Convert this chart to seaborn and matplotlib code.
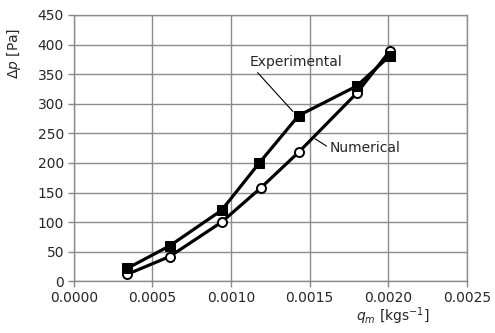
import pandas as pd
import matplotlib
matplotlib.use("Agg")
import matplotlib.pyplot as plt
import seaborn as sns

# Dados
qm_exp = [0.00034, 0.00061, 0.00094, 0.00118, 0.00143, 0.00180, 0.00201]
dp_exp = [22, 60, 120, 200, 280, 330, 381]
qm_num = [0.00034, 0.00061, 0.00094, 0.00119, 0.00143, 0.00180, 0.00201]
dp_num = [12, 42, 100, 158, 218, 318, 389]

x_ticks = [0.0, 0.0005, 0.0010, 0.0015, 0.0020, 0.0025]
y_ticks = [0, 50, 100, 150, 200, 250, 300, 350, 400, 450]

sns.set_style("white")
plt.rcParams['font.family'] = ['DejaVu Sans']

fig = plt.figure(figsize=(4.95, 3.33), dpi=100)
ax = fig.add_axes([0.149, 0.155, 0.794, 0.80])

df_exp = pd.DataFrame({'qm': qm_exp, 'dp': dp_exp})
df_num = pd.DataFrame({'qm': qm_num, 'dp': dp_num})

sns.lineplot(data=df_num, x='qm', y='dp', ax=ax, color='black', linewidth=2.3,
             marker='o', markersize=6.5, markerfacecolor='white',
             markeredgecolor='black', markeredgewidth=1.4, zorder=3)
sns.lineplot(data=df_exp, x='qm', y='dp', ax=ax, color='black', linewidth=2.3,
             marker='s', markersize=7, markerfacecolor='black',
             markeredgecolor='black', zorder=4)

ax.set_xlim(0, 0.0025)
ax.set_ylim(0, 450)
ax.set_xticks(x_ticks)
ax.set_xticklabels([f"{v:.4f}" for v in x_ticks])
ax.set_yticks(y_ticks)
ax.tick_params(labelsize=10, length=4, width=1, color='#888888', direction='out',
               bottom=True, left=True, pad=3)
ax.grid(True, color='#8c8c8c', linewidth=1)
for s in ax.spines.values():
    s.set_color('#8c8c8c')
    s.set_linewidth(1)

ax.set_xlabel(r"$q_m$ [kgs$^{-1}$]", fontsize=10)
ax.xaxis.set_label_coords(0.812, -0.09)
ax.set_ylabel(r"$\Delta p$ [Pa]", fontsize=10)
ax.yaxis.set_label_coords(-0.128, 0.855)

# Rótulos das curvas
ax.annotate("Experimental", xy=(0.001394, 287), xytext=(0.001121, 370),
            fontsize=10, va='center', ha='left',
            arrowprops=dict(arrowstyle='-', color='black', lw=0.8,
                            shrinkA=0, shrinkB=0, relpos=(0.05, 0.0)))
ax.annotate("Numerical", xy=(0.001534, 241), xytext=(0.001629, 225),
            fontsize=10, va='center', ha='left',
            arrowprops=dict(arrowstyle='-', color='black', lw=0.8,
                            shrinkA=0, shrinkB=0, relpos=(0.0, 0.5)))

fig.savefig("out.png", dpi=100)
